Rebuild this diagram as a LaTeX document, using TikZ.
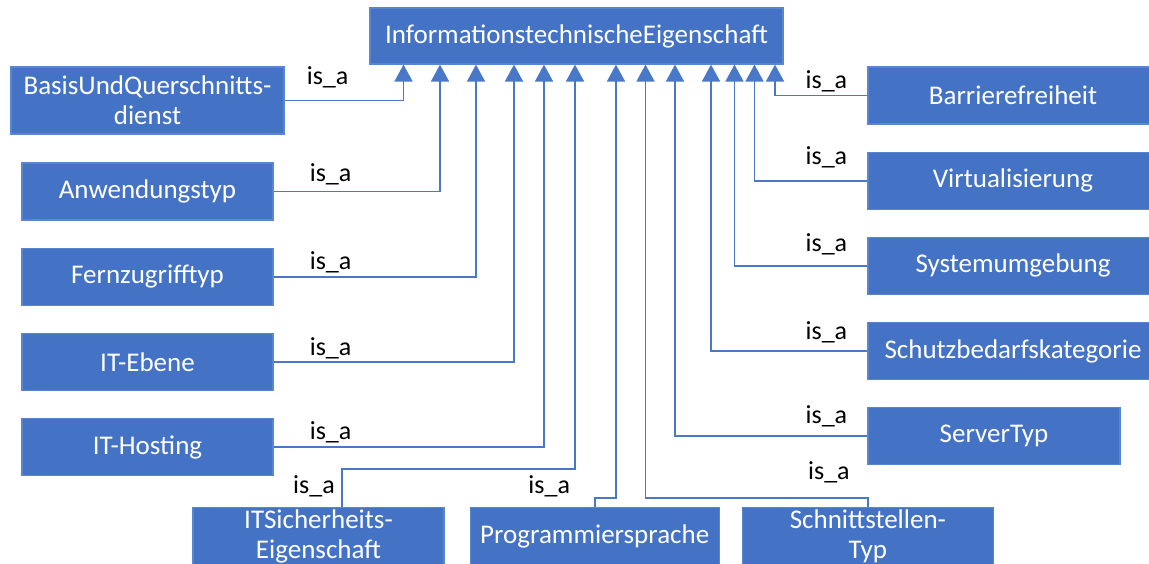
\documentclass[tikz,border=0pt]{standalone}
\usepackage{fontspec}
\setmainfont{Carlito}
\usetikzlibrary{positioning,arrows.meta}
\definecolor{boxblue}{HTML}{4472C4}
\definecolor{boxrim}{HTML}{5A86D0}
\definecolor{isaline}{HTML}{4A78C8}

\begin{document}
\begin{tikzpicture}
	[x=1pt,y=-1pt,node distance=27pt,
	cls/.style={rectangle,fill=boxblue,draw=boxrim,line width=1.2pt,text=white,
		font=\fontsize{27}{30}\selectfont,align=center,inner sep=2pt,minimum height=57pt},
	lbox/.style={cls,minimum width=251pt},
	rbox/.style={cls,minimum width=290pt},
	lbl/.style={inner sep=0pt,font=\fontsize{26}{30}\selectfont},
	isa/.style={color=isaline,line width=1.8pt,-{Triangle[width=18pt,length=17pt]}},
	elbow/.style={to path={-| (\tikztotarget)}}]
	\useasboundingbox (0,0) rectangle (1149,563);
	
	\node[cls,minimum width=413pt,minimum height=56pt] (ite) at (576.5,36) {InformationstechnischeEigenschaft};
	
	% left column
	\node[cls,minimum width=273pt,minimum height=67pt] (basis) at (147.5,100.5) {BasisUndQuerschnitts-\\dienst};
	\node[lbox] (anw) at (147.5,191.5) {Anwendungstyp};
	\node[lbox] (fern) [below=of anw] {Fernzugrifftyp};
	\node[lbox] (ebene) [below=of fern] {IT-Ebene};
	\node[lbox] (hosting) [below=of ebene] {IT-Hosting};
	
	% right column
	\node[rbox] (barr) at (1013,95.5) {Barrierefreiheit};
	\node[rbox] (virt) [below=of barr] {Virtualisierung};
	\node[rbox] (sysu) [below=of virt] {Systemumgebung};
	\node[rbox] (schutz) [below=of sysu] {Schutzbedarfskategorie};
	\node[cls,minimum width=252pt] (server) [below=of schutz.south west,anchor=north west] {ServerTyp};
	
	% bottom row
	\node[lbox,anchor=north,inner ysep=1pt] (itsich) at (318.5,507) {ITSicherheits-\\Eigenschaft};
	\node[cls,minimum width=249pt] (prog) [right=25pt of itsich.north east,anchor=north west] {Programmiersprache};
	\node[lbox,inner ysep=1pt] (schnitt) [right=22pt of prog.north east,anchor=north west] {Schnittstellen-\\Typ};
	
	\path[isa]
	(basis.east) 	edge[elbow] ([xshift=-173pt]ite.south)
	(anw.east) 		edge[elbow] ([xshift=-136.5pt]ite.south)
	(fern.east) 	edge[elbow] ([xshift=-100.5pt]ite.south)
	(ebene.east) 	edge[elbow] ([xshift=-62.5pt]ite.south)
	(hosting.east) 	edge[elbow] ([xshift=-32.5pt]ite.south)
	(server.west) 	edge[elbow] ([xshift=98.5pt]ite.south)
	(schutz.west) 	edge[elbow] ([xshift=134.5pt]ite.south)
	(sysu.west) 	edge[elbow] ([xshift=158pt]ite.south)
	(virt.west) 	edge[elbow] ([xshift=178pt]ite.south)
	(barr.west) 	edge[elbow] ([xshift=198.5pt]ite.south)
	;
	\draw[isa] ([xshift=23.5pt]itsich.north) -- ++(0pt,38pt) -| ([xshift=-1.5pt]ite.south);
	\draw[isa] (prog.north) -- ++(0pt,9pt) -| ([xshift=39.5pt]ite.south);
	\draw[isa] (schnitt.north) -- ++(0pt,9pt) -| ([xshift=69pt]ite.south);
	
	% is_a labels
	\node[lbl] (isa1) [right=22pt of basis.east,yshift=23pt] {is\_a};
	\node[lbl] (isa2) [right=36pt of anw.east,yshift=17pt] {is\_a};
	\node[lbl] (isa3) [right=36pt of fern.east,yshift=14pt] {is\_a};
	\node[lbl] (isa4) [right=36pt of ebene.east,yshift=14pt] {is\_a};
	\node[lbl] (isa5) [right=36pt of hosting.east,yshift=15pt] {is\_a};
	\node[lbl] (isa6) [above=10pt of itsich.north,xshift=-4.5pt] {is\_a};
	\node[lbl] (isa7) [above=10pt of prog.north,xshift=-45.5pt] {is\_a};
	\node[lbl] (isa8) [above=24pt of schnitt.north,xshift=-39pt] {is\_a};
	\node[lbl] (isa9) [left=20pt of server.west,yshift=20pt] {is\_a};
	\node[lbl] (isa10) [left=20pt of schutz.west,yshift=19pt] {is\_a};
	\node[lbl] (isa11) [left=20pt of sysu.west,yshift=22pt] {is\_a};
	\node[lbl] (isa12) [left=20pt of virt.west,yshift=23pt] {is\_a};
	\node[lbl] (isa13) [left=20pt of barr.west,yshift=14pt] {is\_a};
\end{tikzpicture}
\end{document}
